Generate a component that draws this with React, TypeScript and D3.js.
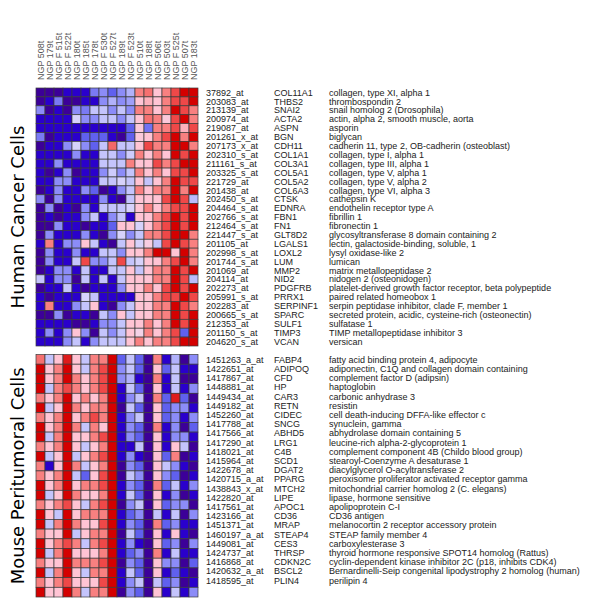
import React from "react";
import * as d3 from "d3";

const columns = ["NGP 508t","NGP 179t","NGP F 515t","NGP F 522t","NGP 180t","NGP 185t","NGP 178t","NGP F 530t","NGP F 527t","NGP 189t","NGP F 523t","NGP 510t","NGP 188t","NGP 506t","NGP 503t","NGP F 525t","NGP 507t","NGP 183t"];

const humanProbes = ["37892_at","203083_at","213139_at","200974_at","219087_at","201261_x_at","207173_x_at","202310_s_at","211161_s_at","203325_s_at","221729_at","201438_at","202450_s_at","204464_s_at","202766_s_at","212464_s_at","221447_s_at","201105_at","202998_s_at","201744_s_at","201069_at","204114_at","202273_at","205991_s_at","202283_at","200665_s_at","212353_at","201150_s_at","204620_s_at"];
const humanGenes = ["COL11A1","THBS2","SNAI2","ACTA2","ASPN","BGN","CDH11","COL1A1","COL3A1","COL5A1","COL5A2","COL6A3","CTSK","EDNRA","FBN1","FN1","GLT8D2","LGALS1","LOXL2","LUM","MMP2","NID2","PDGFRB","PRRX1","SERPINF1","SPARC","SULF1","TIMP3","VCAN"];
const humanDesc = ["collagen, type XI, alpha 1","thrombospondin 2","snail homolog 2 (Drosophila)","actin, alpha 2, smooth muscle, aorta","asporin","biglycan","cadherin 11, type 2, OB-cadherin (osteoblast)","collagen, type I, alpha 1","collagen, type III, alpha 1","collagen, type V, alpha 1","collagen, type V, alpha 2","collagen, type VI, alpha 3","cathepsin K","endothelin receptor type A","fibrillin 1","fibronectin 1","glycosyltransferase 8 domain containing 2","lectin, galactoside-binding, soluble, 1","lysyl oxidase-like 2","lumican","matrix metallopeptidase 2","nidogen 2 (osteonidogen)","platelet-derived growth factor receptor, beta polypeptide","paired related homeobox 1","serpin peptidase inhibitor, clade F, member 1","secreted protein, acidic, cysteine-rich (osteonectin)","sulfatase 1","TIMP metallopeptidase inhibitor 3","versican"];

const humanValues = [
  [-3,-3,-3,-2.3,-2.3,-2.3,-1.2,-1,-1.5,-1,-0.6,1.3,1.5,0.6,1.3,2,2.8,2.8],
  [-3,-2.3,-1.2,-3,-3,-2.3,-2.3,-1,-0.6,-1,-0.8,0.6,0.8,0.6,1.3,2,2,2.8],
  [-1,-3,-2.3,-3,-1,-1.2,-0.4,-0.4,-1,-0.4,-1,1.3,1.3,0.6,1.3,2.8,2,1.3],
  [-2.3,-2.3,-2.3,-2.3,-0.2,-1,-1,-0.4,-0.4,-1,-0.4,0.6,1.5,1.3,0.5,2,2.8,1.3],
  [-2.3,-2.3,-2.3,-2.3,-2.3,-2.3,-2.3,-2.3,-2.3,-2.3,-1.5,0.5,-1.3,1.3,1.3,2,0.8,2],
  [-1.2,-3,-2.3,-2.3,-2.3,-1.5,-1.5,-1.5,-2.3,-3,-1.5,0.5,0.6,1.3,2,2.8,1.3,2.8],
  [-3,-2.3,-2.3,-1,-0.2,-1,-1.5,-0.4,1.6,-0.4,-0.4,0.6,2,1.3,1.3,2.8,2.8,1.3],
  [-2.3,-2.3,-2.3,-2.3,-1,-2.3,-2.3,-0.4,-0.4,-1,-0.3,1.3,0.6,1.3,0.6,2.8,2,2.8],
  [-2.3,-2.3,-1,-2.3,-2.3,-2.3,-2.3,-0.4,-0.4,-0.4,1.3,0.6,0.6,2,1.3,2,2.8,2.8],
  [-2.3,-3,-2.3,-1,-3,-2.3,-2.3,-1,-0.3,-1,-0.4,1.3,0.6,1.3,0.6,2,2,2.8],
  [-2.3,-2.3,-1,-1,-2.3,-2.3,-2.3,-0.4,-0.4,-0.2,-0.4,0.6,-0.4,0.6,1.3,2.8,2,2],
  [-3,-2.3,-1,-2.3,-2.3,-1,-1.5,-3,-2.3,-1,-0.4,1.3,0.6,1.3,1.3,2.8,1.3,2.8],
  [-1,-3,-1,-2.3,-2.3,-2.3,-2.3,-1,-2.3,-3,-0.4,0.6,0.6,0.6,2,2.8,2,-0.5],
  [-3,-1,-3,-2.3,-3,-1,-2.3,-0.4,-0.4,-0.4,-0.2,0.6,1.3,0.6,1.3,2,2,2.8],
  [-3,-2.3,-3,-2.3,-2.3,-1,-0.4,-2.3,-1,-0.4,-2.3,0.6,0.6,1.3,2,2.8,2,2.8],
  [-3,-3,-1,-2.3,-2.3,-3,-2.3,-2.3,-1.5,0.6,0.6,-0.2,0.6,1.3,2,2.8,2,2.8],
  [-3,-1,-2.3,-2.3,-2.3,-1,-2.3,-3,-1,-0.2,-1,-0.4,1.3,1.3,2,2.8,2.8,1.3],
  [-2.3,1.3,-2.3,-1,-1,0.6,-0.4,-2.3,-3,-0.4,0.6,-0.2,0.4,-0.4,2,2.8,2,1.3],
  [-3,-1,-2.3,-2.3,-1,-2.3,-2.3,-0.4,-0.4,-1,0.6,0.6,1.3,2.8,2.8,0.6,2.8,1.3],
  [-3,-1,-2.3,-2.3,-0.4,2,-1,-1,-0.4,2,-0.4,-0.2,0.6,0.6,1.3,2,2.8,1.3],
  [-3,-2.3,-1,-1,-2.3,-0.4,-2.3,-2.3,-0.4,-0.4,0.6,-0.4,0.6,1.3,1.3,2.8,2,2.8],
  [-0.4,-2.3,-1,-1,-3,-0.4,-2.3,-0.4,-2.3,-0.4,0.6,0.6,0.6,1.3,1.3,2.8,2,-0.5],
  [-3,-2.3,-2.3,-0.4,-2.3,-3,-2.3,-2.3,-2.3,-1,0.6,0.6,1.3,0.6,2,2.8,2,2.8],
  [-2.3,-3,-2.3,-2.3,-2.3,-0.2,-0.4,-2.3,-2.3,-2.3,-2.3,0.6,0.6,1.3,2,2,2.8,2],
  [-2.3,1.3,-2.3,-2.3,-1,-0.4,0.6,-2.3,-3,-1,-0.4,0.6,0.6,1.3,1.3,2.8,2,1.3],
  [-3,-3,-1,-3,-2.3,-2.3,-3,-0.4,-1,0.6,-0.4,0.6,0.6,1.3,1.3,2.8,2,2.8],
  [-2.3,-2.3,-2.3,-2.3,-3,-3,-2.3,-1,-1,-0.4,0.6,0.6,1.3,0.6,1.3,2.8,2,2.8],
  [-2.3,-1,-2.3,-1,0.6,-1,-3,-0.4,-1,-0.4,0.6,0.3,1.3,0.6,1.3,2,-1.5,2.8],
  [-2.3,-2.3,-2.3,-1,-0.4,-2.3,-1,-0.4,-0.4,-0.4,0.6,1.3,0.6,1.3,1.3,2,2.8,2.8],
];

const mouseProbes = ["1451263_a_at","1422651_at","1417867_at","1448881_at","1449434_at","1449182_at","1452260_at","1417788_at","1417566_at","1417290_at","1418021_at","1415964_at","1422678_at","1420715_a_at","1438843_x_at","1422820_at","1417561_at","1423166_at","1451371_at","1460197_a_at","1449081_at","1424737_at","1416868_at","1420632_a_at","1418595_at"];
const mouseGenes = ["FABP4","ADIPOQ","CFD","HP","CAR3","RETN","CIDEC","SNCG","ABHD5","LRG1","C4B","SCD1","DGAT2","PPARG","MTCH2","LIPE","APOC1","CD36","MRAP","STEAP4","CES3","THRSP","CDKN2C","BSCL2","PLIN4"];
const mouseDesc = ["fatty acid binding protein 4, adipocyte","adiponectin, C1Q and collagen domain containing","complement factor D (adipsin)","haptoglobin","carbonic anhydrase 3","resistin","cell death-inducing DFFA-like effector c","synuclein, gamma","abhydrolase domain containing 5","leucine-rich alpha-2-glycoprotein 1","complement component 4B (Childo blood group)","stearoyl-Coenzyme A desaturase 1","diacylglycerol O-acyltransferase 2","peroxisome proliferator activated receptor gamma","mitochondrial carrier homolog 2 (C. elegans)","lipase, hormone sensitive","apolipoprotein C-I","CD36 antigen","melanocortin 2 receptor accessory protein","STEAP family member 4","carboxylesterase 3","thyroid hormone responsive SPOT14 homolog (Rattus)","cyclin-dependent kinase inhibitor 2C (p18, inhibits CDK4)","Bernardinelli-Seip congenital lipodystrophy 2 homolog (human)","perilipin 4"];

const mouseValues = [
  [1.5,-0.4,0.6,2.5,0.6,-0.4,1.3,1.3,2.8,-1.5,-0.4,-1.5,-3,1.3,-2.3,-0.6,-3,-1],
  [2.8,0.6,1.3,2.8,0.6,-0.4,1.3,2,2.8,-1,-0.4,-1.5,-3,0.6,-1.5,-0.4,-2.3,-2.3],
  [2.8,0.6,1.3,2.8,1.3,0.6,1.3,2,2.8,-1,-0.6,-2.3,-3,1.3,-2.3,-0.4,-3,-3],
  [2.8,-0.4,1.3,2,1.3,0.6,1.3,2,2.8,-2.3,-0.4,-1.5,-3,0.6,-2.3,-0.4,-2.3,-1],
  [1.3,0.6,1.3,2.8,0.6,1.3,0.6,1.3,2.8,-2.3,-1,-0.4,-3,1.3,-1.5,2.5,-1.5,-3],
  [2.8,-0.4,0.6,2.8,1.3,0.6,1.3,1.3,2.8,-3,-0.4,-1.5,-3,0.6,-1.5,-1,-1,-2.3],
  [1.3,0.6,1.3,2.8,0.6,1.3,2,1.3,2.8,-2.3,-1,-0.4,-3,0.6,-1.5,-1,-2.3,-1],
  [2.8,0.6,1.3,2.8,1.3,-0.4,1.3,0.6,2.8,-2.3,-1,-1.5,-3,1.3,-2.3,-1,-3,-1.5],
  [2.8,-0.4,1.3,2.8,0.6,0.6,1.3,2,2.8,-2.3,-1,-1.5,-3,0.6,-2.3,-1,-1,-2.3],
  [1.3,0.6,1.3,2.8,0.6,-0.4,0.6,1.3,2.8,-2.3,-2.3,-0.4,-3,0.6,-2.3,0.6,-0.4,-3],
  [2.8,-0.4,0.6,2.8,-0.4,0.6,1.3,2,2.8,-2.3,-1,-2.3,-3,0.6,-1.5,1.3,-3,-2.3],
  [1.3,-2.3,0.6,2.8,1.3,-0.4,0.6,1.3,2.8,-3,-1,-1.5,-3,0.6,-0.4,-1,-2.3,-3],
  [1.3,0.6,1.3,2.8,-0.4,-1.5,0.6,2,2.8,-3,-0.4,-1,-3,0.6,-1,-1.5,-3,-2.3],
  [2.8,0.6,1.3,2.8,0.6,1.3,1.3,2,2.8,-2.3,-1,-1.5,-3,1.3,-1.5,-0.4,-2.3,-1],
  [2.8,-0.4,0.6,2.8,1.3,0.6,0.6,1.3,2.8,-2.3,-0.4,-1.5,-3,0.6,-2.3,-1,-3,-2.3],
  [1.3,0.6,1.3,2,0.6,-0.4,1.3,2,2.8,-3,-1,-0.4,-3,0.6,-1.5,-1,-1,-3],
  [2.8,0.6,-0.4,2.8,0.6,1.3,1.3,1.3,2.8,-2.3,-1.5,-1,-3,-0.4,-2.3,-0.4,-3,-1],
  [2.8,-0.4,1.3,2.8,1.3,0.6,0.6,2,2.8,-2.3,-1,-1.5,-3,1.3,-1.5,-1,-2.3,-2.3],
  [1.3,0.6,0.6,2.8,-0.4,0.6,1.3,1.3,2.8,-3,-0.4,-1.5,-3,0.6,-2.3,0.6,-2.3,-3],
  [2.8,0.6,1.3,2,1.3,-0.4,1.3,2,2.8,-2.3,-1,-2.3,-3,0.6,-1.5,-1,-3,-1],
  [2.8,-0.4,1.3,2.8,0.6,0.6,0.6,1.3,2.8,-2.3,-1.5,-1,-3,1.3,-2.3,-0.4,-2.3,-2.3],
  [1.3,0.6,0.6,2.8,1.3,1.3,1.3,2,2.8,-3,-1,-1.5,-3,0.6,-1,-1,-3,-1.5],
  [2.8,-0.4,1.3,2.8,0.6,-0.4,1.3,1.3,2.8,-2.3,-0.4,-1.5,-3,0.6,-2.3,-1.5,-2.3,-3],
  [1.3,0.6,1.3,2,0.6,0.6,0.6,2,2.8,-2.3,-1,-0.4,-3,-0.4,-1.5,-1,-3,-2.3],
  [2.8,0.6,0.6,2.8,1.3,-0.4,1.3,1.3,2.8,-3,-1,-1.5,-3,0.6,-2.3,-0.4,-2.3,-1],
];

const color = d3.scaleLinear<string>()
  .domain([-3, -2.3, -1.5, -1, -0.4, 0, 0.6, 1.3, 2, 2.8])
  .range(["#3c0098", "#2a00cc", "#6060ee", "#8c8cf8", "#c4c4fc", "#e8e0fa", "#ffc4d4", "#f88080", "#ef4848", "#d40000"])
  .clamp(true);

const W = 600, H = 600;
const heatLeft = 36, heatRight = 198;
const topY0 = 88, topY1 = 346;
const botY0 = 354.5, botY1 = 597;
const botLabelY0 = 355, botLabelY1 = 585;
const probeX = 206, geneX = 274, descX = 329;

function Heat({ values, probes, genes, desc, y0, y1, ly0, ly1 }: any) {
  const x = d3.scaleBand<number>().domain(d3.range(columns.length)).range([heatLeft, heatRight]);
  const y = d3.scaleBand<number>().domain(d3.range(values.length)).range([y0, y1]);
  const ly = d3.scaleBand<number>().domain(d3.range(values.length)).range([ly0, ly1]);
  return (
    <g>
      {values.map((row: number[], i: number) =>
        row.map((v, j) => (
          <rect key={`${i}-${j}`} x={x(j)} y={y(i)} width={x.bandwidth()} height={y.bandwidth()}
            fill={color(v)} stroke="#3a3a3a" strokeWidth={0.7} />
        ))
      )}
      {probes.map((p: string, i: number) => {
        const cy = (ly(i) as number) + ly.bandwidth() / 2 + 3.2;
        return (
          <g key={p} fontFamily="Liberation Sans, Arial, sans-serif" fontSize={9} fill="#222">
            <text x={probeX} y={cy}>{p}</text>
            <text x={geneX} y={cy}>{genes[i]}</text>
            <text x={descX} y={cy}>{desc[i]}</text>
          </g>
        );
      })}
    </g>
  );
}

export default function App() {
  const x = d3.scaleBand<number>().domain(d3.range(columns.length)).range([heatLeft, heatRight]);
  return (
    <svg width={W} height={H} style={{ position: "absolute", left: 0, top: 0, background: "#fff" }}>
      <rect width={W} height={H} fill="#fff" />
      {columns.map((c, j) => {
        const cx = (x(j) as number) + x.bandwidth() / 2 + 3;
        return (
          <text key={c} transform={`translate(${cx},80) rotate(-90)`} fontFamily="Liberation Sans, Arial, sans-serif"
            fontSize={9} fill="#555">{c}</text>
        );
      })}
      <Heat values={humanValues} probes={humanProbes} genes={humanGenes} desc={humanDesc}
        y0={topY0} y1={topY1} ly0={topY0} ly1={topY1} />
      <Heat values={mouseValues} probes={mouseProbes} genes={mouseGenes} desc={mouseDesc}
        y0={botY0} y1={botY1} ly0={botLabelY0} ly1={botLabelY1} />
      <text transform={`translate(24,${(topY0 + topY1) / 2}) rotate(-90)`} textAnchor="middle"
        fontFamily="DejaVu Sans, Verdana, sans-serif" fontSize={18} fill="#000">Human Cancer Cells</text>
      <text transform={`translate(24,${(botY0 + botY1) / 2}) rotate(-90)`} textAnchor="middle"
        fontFamily="DejaVu Sans, Verdana, sans-serif" fontSize={18} fill="#000">Mouse Peritumoral Cells</text>
    </svg>
  );
}
